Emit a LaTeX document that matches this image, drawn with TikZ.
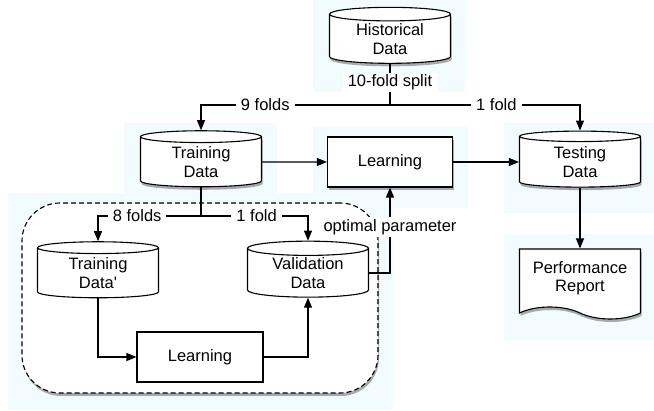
\documentclass[tikz,border=0pt]{standalone}
\usepackage{fontspec}
\setmainfont{Liberation Sans}
\usetikzlibrary{shapes.geometric,shapes.symbols,shadows,arrows.meta}
\definecolor{halo}{RGB}{242,252,255}
\tikzset{
  every node/.style={font=\fontsize{16.5}{18.5}\selectfont, align=center},
  dropped/.style={drop shadow={shadow xshift=1pt, shadow yshift=-3pt, opacity=0.4, fill=black!80}},
  db/.style={cylinder, shape border rotate=90, aspect=0.2, draw, fill=white,
    line width=1.1pt, minimum width=121pt, minimum height=56pt, inner sep=0pt},
  proc/.style={rectangle, draw, fill=white, line width=1.1pt,
    minimum width=125pt, minimum height=50pt, inner sep=0pt},
  report/.style={tape, tape bend top=none, tape bend bottom=out and in,
    tape bend height=12pt, draw, fill=white, line width=1.1pt,
    minimum width=121pt, minimum height=70pt, inner sep=0pt},
  cvregion/.style={rectangle, rounded corners=38pt, draw, dash pattern=on 5pt off 3pt,
    fill=white, line width=1.1pt, minimum width=356pt, minimum height=190pt},
  arr/.style={-{Triangle[length=10pt,width=8pt]}, line width=1.1pt},
  wire/.style={line width=1.1pt},
  tag/.style={fill=white, inner xsep=5pt, inner ysep=2pt}
}
\begin{document}
\begin{tikzpicture}[x=1pt, y=-1pt]
  \useasboundingbox (0,0) rectangle (654,411);
  \fill[halo] (313,0) rectangle (465,92);
  \fill[halo] (124,123) rectangle (277,195);
  \fill[halo] (313,127) rectangle (468,208);
  \fill[halo] (504,123) rectangle (654,213);
  \fill[halo] (504,234) rectangle (654,340);
  \fill[halo] (8,193) rectangle (393,410);

  \node[cvregion, dropped] (cv) at (200,298) {};

  \node[db, dropped] (hist) at (390,39) {Historical\\Data};
  \node[db, dropped] (train) at (201,162) {Training\\Data};
  \node[proc, dropped] (learn) at (390,162) {Learning};
  \node[db, dropped] (test) at (580,162) {Testing\\Data};
  \node[report, dropped] (perf) at (580,278) {Performance\\Report};

  \node[db] (trainp) at (98,273) {Training\\Data\textquotesingle};
  \node[db] (valid) at (308,273) {Validation\\Data};
  \node[proc, minimum width=126pt] (ilearn) at (200,357) {Learning};

  \coordinate (split) at (390,105);
  \coordinate (split2) at (201,216);

  \draw[wire] (hist) -- node[tag, pos=0.45] {10-fold split} (split);
  \draw[arr] (split) -| node[tag, pos=0.33] {9 folds} (train);
  \draw[arr] (split) -| node[tag, pos=0.28] {1 fold} (test);
  \draw[arr] (train) -- (learn);
  \draw[arr] (learn) -- (test);
  \draw[arr] (test) -- (perf);

  \draw[wire] (train) -- (split2);
  \draw[arr] (split2) -| node[tag, pos=0.31] {8 folds} (trainp);
  \draw[arr] (split2) -| node[tag, pos=0.26] {1 fold} (valid);
  \draw[arr] (trainp) |- (ilearn);
  \draw[arr] (ilearn) -| (valid);
  \draw[arr] (valid) -| node[tag, pos=0.77] {optimal parameter} (learn);
\end{tikzpicture}
\end{document}
